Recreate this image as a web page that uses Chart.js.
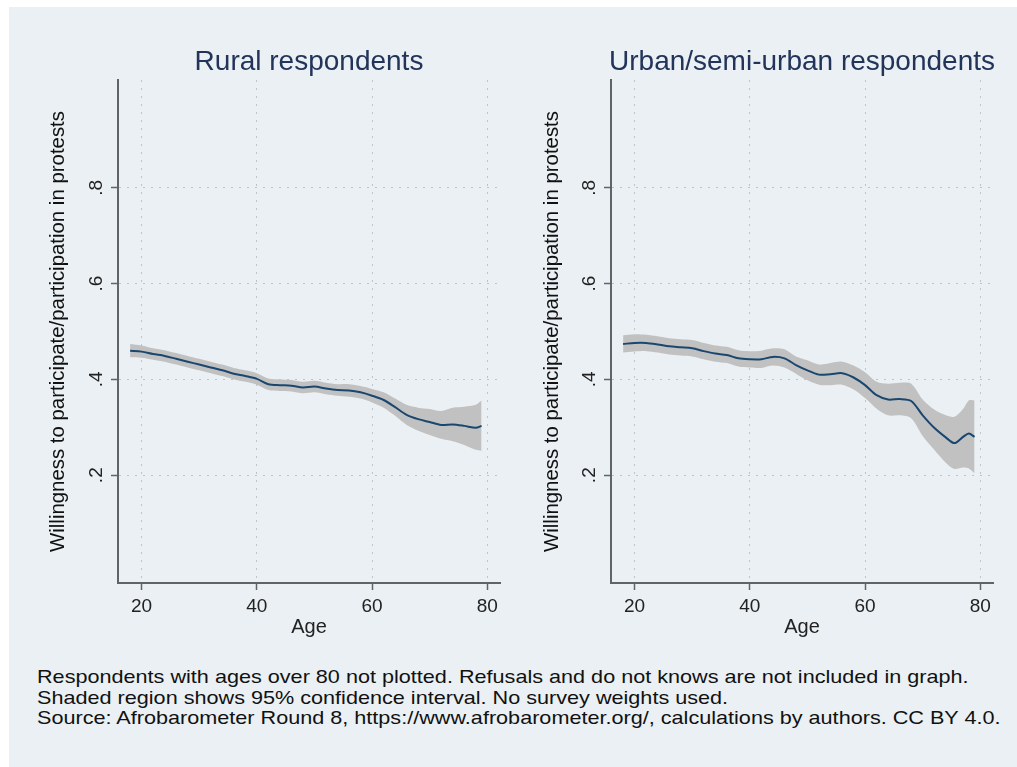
<!DOCTYPE html>
<html>
<head>
<meta charset="utf-8">
<script src="https://cdn.jsdelivr.net/npm/chart.js@4/dist/chart.umd.min.js"></script>
<style>
  html, body { margin: 0; padding: 0; background: #ffffff; }
  body { width: 1017px; height: 767px; position: relative; overflow: hidden; }
  #frame { position: absolute; left: 9px; top: 7px; width: 1008px; height: 760px; background: #eaf0f3; }
  canvas { position: absolute; top: 0; }
  #rural { left: 0; }
  #urban { left: 508px; }
  #note {
    position: absolute; left: 37px; top: 667px;
    font-family: 'Liberation Sans', Arial, sans-serif; font-size: 19px; line-height: 20.5px;
    color: #111; white-space: nowrap; transform-origin: 0 0; transform: scaleX(1.138);
  }
</style>
</head>
<body>
<div id="frame"></div>
<canvas id="rural" width="508" height="650"></canvas>
<canvas id="urban" width="509" height="650"></canvas>
<div id="note">
  <div class="ln">Respondents with ages over 80 not plotted. Refusals and do not knows are not included in graph.</div>
  <div class="ln">Shaded region shows 95% confidence interval. No survey weights used.</div>
  <div class="ln">Source: Afrobarometer Round 8, https://www.afrobarometer.org/, calculations by authors. CC BY 4.0.</div>
</div>
<script>
// Smoothed share willing to protest / having protested, by age
const ruralAges = [18, 20, 22, 24, 26, 28, 30, 32, 34, 36, 38, 40, 42, 44, 46, 48, 50, 52, 54, 56, 58, 60, 62, 64, 66, 68, 70, 72, 74, 76, 78, 79];
const ruralMean = [0.460, 0.458, 0.453, 0.449, 0.443, 0.437, 0.431, 0.425, 0.419, 0.412, 0.407, 0.401, 0.390, 0.388, 0.387, 0.383, 0.385, 0.381, 0.378, 0.377, 0.373, 0.366, 0.357, 0.342, 0.326, 0.317, 0.311, 0.305, 0.306, 0.303, 0.299, 0.303];
const ruralLow  = [0.446, 0.445, 0.441, 0.437, 0.431, 0.425, 0.419, 0.413, 0.407, 0.400, 0.395, 0.389, 0.378, 0.376, 0.375, 0.371, 0.373, 0.369, 0.366, 0.364, 0.360, 0.352, 0.341, 0.324, 0.305, 0.293, 0.284, 0.276, 0.271, 0.263, 0.253, 0.251];
const ruralHigh = [0.474, 0.471, 0.465, 0.461, 0.455, 0.449, 0.443, 0.437, 0.431, 0.424, 0.419, 0.413, 0.402, 0.400, 0.399, 0.395, 0.397, 0.393, 0.390, 0.390, 0.386, 0.380, 0.373, 0.360, 0.347, 0.341, 0.338, 0.334, 0.341, 0.343, 0.347, 0.356];

const urbanAges = [18, 20, 22, 24, 26, 28, 30, 32, 34, 36, 38, 40, 42, 44, 46, 48, 50, 52, 54, 56, 58, 60, 62, 64, 66, 68, 70, 72, 74, 75.5, 77, 78, 79];
const urbanMean = [0.474, 0.476, 0.476, 0.473, 0.469, 0.467, 0.465, 0.459, 0.454, 0.451, 0.444, 0.442, 0.442, 0.447, 0.444, 0.430, 0.419, 0.410, 0.411, 0.413, 0.404, 0.388, 0.367, 0.358, 0.359, 0.355, 0.325, 0.299, 0.279, 0.267, 0.280, 0.287, 0.280];
const urbanLow  = [0.456, 0.458, 0.459, 0.456, 0.452, 0.450, 0.448, 0.442, 0.437, 0.434, 0.427, 0.425, 0.424, 0.429, 0.425, 0.412, 0.398, 0.389, 0.388, 0.389, 0.379, 0.361, 0.339, 0.325, 0.325, 0.319, 0.282, 0.253, 0.226, 0.213, 0.216, 0.214, 0.204];
const urbanHigh = [0.492, 0.494, 0.493, 0.490, 0.486, 0.484, 0.482, 0.476, 0.471, 0.468, 0.461, 0.459, 0.460, 0.465, 0.463, 0.448, 0.440, 0.431, 0.434, 0.437, 0.429, 0.415, 0.395, 0.391, 0.393, 0.391, 0.358, 0.337, 0.325, 0.322, 0.338, 0.356, 0.356];

const xTicks = [20, 40, 60, 80];
const yTicks = [0.2, 0.4, 0.6, 0.8];
const yTickLabels = ['.2', '.4', '.6', '.8'];

const panelTitles = ['Rural respondents', 'Urban/semi-urban respondents'];
const xTitle = 'Age';
const yTitle = 'Willingness to participate/participation in protests';

const FONT = "'Liberation Sans', Arial, sans-serif";
Chart.defaults.font.family = FONT;
Chart.defaults.color = '#222';

const NAVY = '#1a476f';
const BAND = '#c1c1c1';
const AXIS = '#5f6468';
const GRID = '#bcc3c9';

// Draws the panel heading centred over the plotting area
const panelTitle = {
  id: 'panelTitle',
  afterDraw(chart, args, opts) {
    const { ctx, chartArea } = chart;
    ctx.save();
    ctx.font = '28px ' + FONT;
    ctx.fillStyle = '#22345a';
    ctx.textAlign = 'center';
    ctx.textBaseline = 'alphabetic';
    ctx.fillText(opts.text, (chartArea.left + chartArea.right) / 2, chartArea.top - 10);
    ctx.restore();
  }
};

function toPoints(xs, ys) {
  return xs.map((x, i) => ({ x: x, y: ys[i] }));
}

function makePanel(id, title, ages, mean, low, high, padLeft, padRight, yTitlePad) {
  return new Chart(document.getElementById(id), {
    type: 'line',
    data: {
      datasets: [
        // fitted line, drawn above the confidence band
        { data: toPoints(ages, mean), borderColor: NAVY, borderWidth: 2, pointRadius: 0, fill: false, tension: 0.3, order: 0 },
        // 95% confidence band: upper bound filled down to the lower bound
        { data: toPoints(ages, high), borderWidth: 0, borderColor: 'rgba(0,0,0,0)', pointRadius: 0, fill: '+1', backgroundColor: BAND, tension: 0.3, order: 1 },
        { data: toPoints(ages, low), borderWidth: 0, borderColor: 'rgba(0,0,0,0)', pointRadius: 0, fill: false, tension: 0.3, order: 2 }
      ]
    },
    options: {
      responsive: false,
      animation: false,
      layout: { padding: { left: padLeft, right: padRight, top: 80, bottom: 0 } },
      plugins: {
        legend: { display: false },
        tooltip: { enabled: false },
        panelTitle: { text: title }
      },
      scales: {
        x: {
          type: 'linear',
          min: 15.9,
          max: 82.2,
          afterBuildTicks: s => { s.ticks = xTicks.map(v => ({ value: v })); },
          afterFit: s => { s.height = 67; },
          ticks: { font: { size: 19 }, color: '#222', padding: 5, maxRotation: 0, autoSkip: false },
          grid: { color: GRID, lineWidth: 1, tickColor: AXIS, tickLength: 7, tickWidth: 1.5 },
          border: { color: AXIS, width: 2, dash: [2, 6] },
          title: { display: true, text: xTitle, font: { size: 20 }, color: '#222', padding: { top: 0, bottom: 11 } }
        },
        y: {
          type: 'linear',
          min: -0.025,
          max: 1.025,
          afterBuildTicks: s => { s.ticks = yTicks.map(v => ({ value: v })); },
          afterFit: s => { s.width = 100; },
          ticks: {
            font: { size: 19 }, color: '#222', padding: 6, minRotation: 90, maxRotation: 90,
            crossAlign: 'center', autoSkip: false,
            callback: v => yTickLabels[yTicks.indexOf(Math.round(v * 10) / 10)]
          },
          grid: { color: GRID, lineWidth: 1, tickColor: AXIS, tickLength: 7, tickWidth: 1.5 },
          border: { color: AXIS, width: 2, dash: [2, 6] },
          title: { display: true, text: yTitle, font: { size: 20.4 }, color: '#111', padding: { top: yTitlePad, bottom: 0 } }
        }
      }
    },
    plugins: [panelTitle]
  });
}

makePanel('rural', panelTitles[0], ruralAges, ruralMean, ruralLow, ruralHigh, 18, 8, 28);
makePanel('urban', panelTitles[1], urbanAges, urbanMean, urbanLow, urbanHigh, 3, 24, 29);
</script>
</body>
</html>
